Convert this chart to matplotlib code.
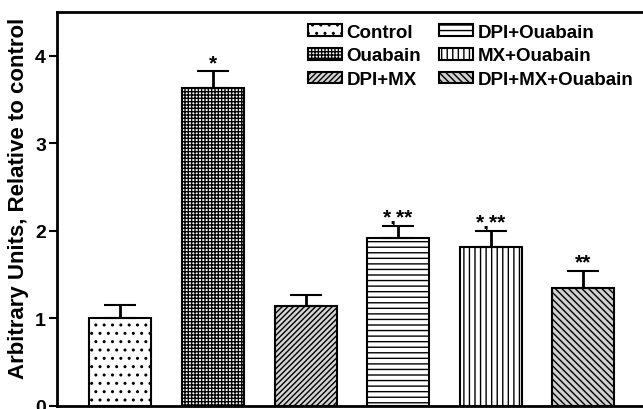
import numpy as np
import matplotlib
matplotlib.use("Agg")
import matplotlib.pyplot as plt

plt.rcParams['font.family'] = ['Liberation Sans', 'DejaVu Sans']
plt.rcParams['font.weight'] = 'bold'
plt.rcParams['hatch.linewidth'] = 1.0

# group means, upper SEM and significance marks
groups = ['Control', 'Ouabain', 'DPI+MX', 'DPI+Ouabain', 'MX+Ouabain', 'DPI+MX+Ouabain']
means = [1.00, 3.63, 1.14, 1.91, 1.81, 1.34]
sem = [0.15, 0.19, 0.12, 0.14, 0.18, 0.20]
marks = ['', '*', '', '*,**', '*,**', '**']

faces = ['white', 'white', '#d4d4d4', 'white', 'white', '#d0d0d0']
hatches = ['..', '+++++', '//////', '---', '|||', '\\\\\\\\\\']

fig = plt.figure(figsize=(6.43, 4.10), dpi=100)
ax = fig.add_axes([0.0887, 0.0085, 0.931, 0.960])

x = np.arange(len(groups))
bars = ax.bar(x, means, width=0.67, color=faces, edgecolor='black',
              linewidth=1.5, zorder=2)
for b, h, g in zip(bars, hatches, groups):
    b.set_hatch(h)
    b.set_label(g)

ax.errorbar(x, means, yerr=[np.zeros(len(sem)), sem], fmt='none',
            ecolor='black', elinewidth=2, capsize=11.5, capthick=1.5, zorder=3)

for xi, m, s, t in zip(x, means, sem, marks):
    if t:
        ax.text(xi, m + s + 0.04, t, ha='center', va='baseline',
                fontsize=15, fontweight='bold')

ax.set_xlim(-0.685, 5.78)
ax.set_ylim(0, 4.5)
ax.set_yticks([0, 1, 2, 3, 4])
ax.set_xticks([])
ax.tick_params(axis='y', direction='out', length=6, width=1.5,
               labelsize=14, pad=2)
for lab in ax.get_yticklabels():
    lab.set_fontweight('bold')
for sp in ['left', 'bottom', 'top']:
    ax.spines[sp].set_linewidth(2)
ax.spines['right'].set_visible(False)

ax.set_ylabel('Arbitrary Units, Relative to control', fontsize=16,
              fontweight='bold')
ax.yaxis.set_label_coords(-0.047, 0.53)

fig.legend(handles=list(bars), loc='upper left',
           bbox_to_anchor=(0.479, 0.94), ncol=2, frameon=False,
           prop={'size': 13.5, 'weight': 'bold'}, borderpad=0,
           borderaxespad=0, handlelength=1.8, handleheight=0.6,
           handletextpad=0.25, columnspacing=0.95, labelspacing=0.36)

fig.savefig('out.png', dpi=100)
